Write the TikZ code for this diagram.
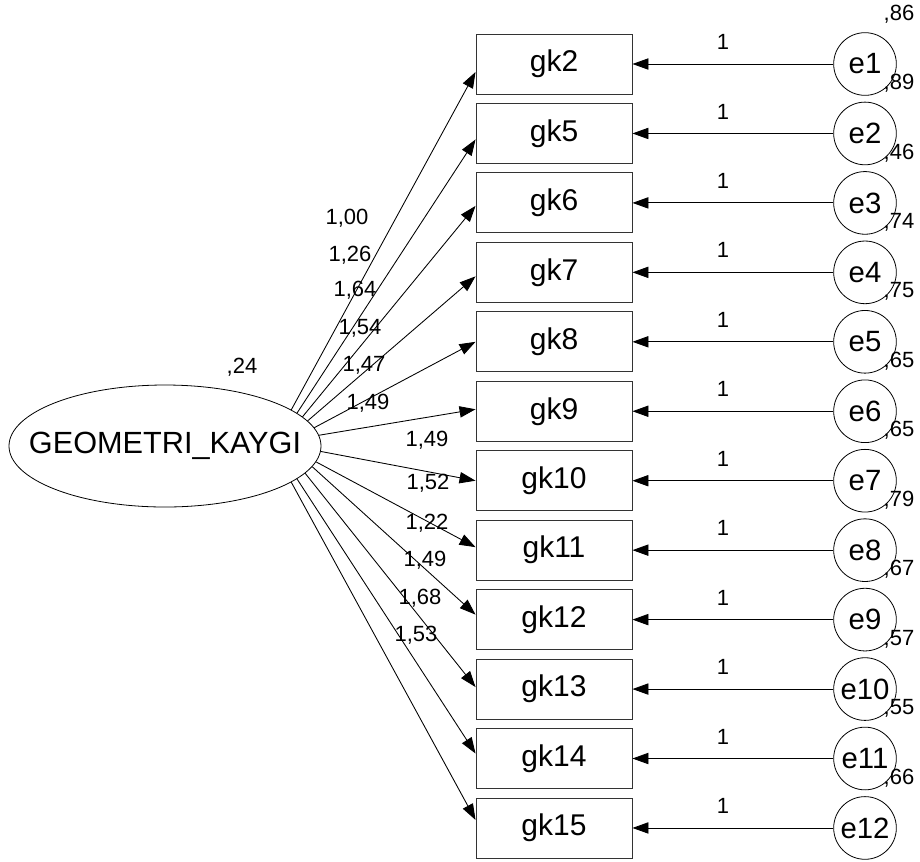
\documentclass[tikz,border=0pt]{standalone}
\usepackage{fontspec}
\setmainfont{Liberation Sans}
\usetikzlibrary{arrows.meta,shapes.geometric}
\begin{document}
\begin{tikzpicture}[x=0.75pt,y=-0.75pt,
  obs/.style={draw=black!80,line width=0.7pt,minimum width=117pt,minimum height=45pt,inner sep=0pt,font=\fontsize{22.5}{24}\selectfont},
  err/.style={circle,draw,line width=0.6pt,minimum size=47pt,inner sep=0pt,font=\fontsize{22}{24}\selectfont},
  lat/.style={ellipse,draw,line width=0.6pt,minimum width=234pt,minimum height=91.5pt,inner sep=0pt,font=\fontsize{23}{24}\selectfont},
  lbl/.style={inner sep=0pt,font=\fontsize{16.5}{18}\selectfont},
  arr/.style={-{Triangle[length=12pt,width=8.5pt]},line width=0.65pt}]
\useasboundingbox (0,0) rectangle (920,861);
\node[lat] (F) at (165,446) {\makebox[0pt]{GEOMETRI\_KAYGI}};
\node[lbl] (fvar) at (242,367) {,24};
\foreach \i/\g/\v/\a/\o [evaluate=\i as \cy using 64+69.45*\i, evaluate=\i as \n using int(\i+1)] in
  {0/2/86/16.2/8, 1/5/89/14.1/6, 2/6/46/12.3/3, 3/7/74/10.2/4, 4/8/75/7.6/0, 5/9/65/4.5/-2,
   6/10/65/-2.2/0, 7/11/79/-6.0/-3, 8/12/67/-8.5/-5, 9/13/57/-11.2/-2, 10/14/55/-14.3/-5, 11/15/66/-16.9/-8} {
  \node[obs] (gk\g) at (554,\cy) {gk\g};
  \node[err] (e\n) at (865,\cy) {e\n};
  \node[lbl] (one\n) at (723,\cy-22) {1};
  \node[lbl] (var\n) at (899,\cy-50) {,\v};
  \draw[arr] (e\n) -- (gk\g);
  \draw[arr] (F.\a) -- ([yshift=-\o*0.75pt]gk\g.west);
}
\foreach \t/\x/\y [count=\k] in {{1,00}/347/218, {1,26}/350/255, {1,64}/355/290, {1,54}/360/328, {1,47}/364/365, {1,49}/368/403,
   {1,49}/427/440, {1,52}/428/483, {1,22}/427/523, {1,49}/425/560, {1,68}/420/598, {1,53}/416/635} {
  \node[lbl] (ld\k) at (\x,\y) {\t};
}
\end{tikzpicture}
\end{document}
